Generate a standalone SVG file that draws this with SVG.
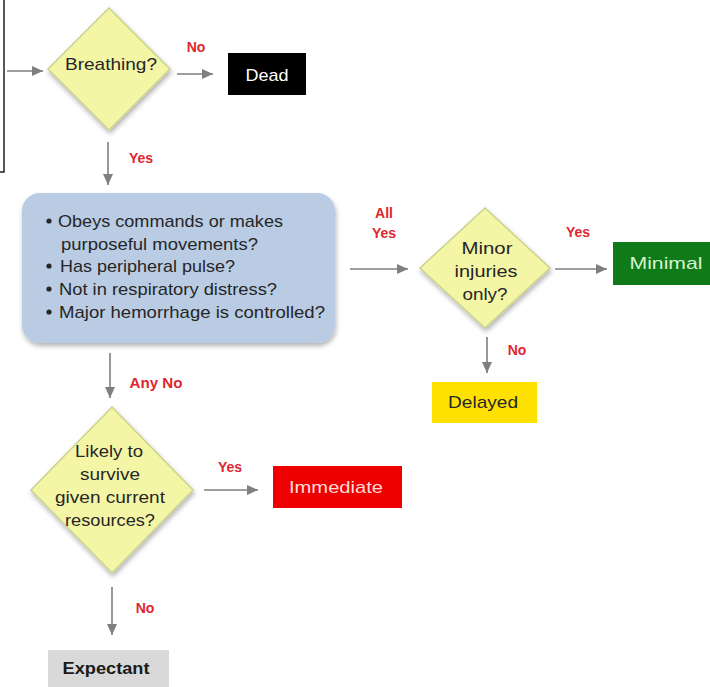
<svg xmlns="http://www.w3.org/2000/svg" width="710" height="687" viewBox="0 0 710 687">
<style>
.t{font-family:"Liberation Sans",Arial,sans-serif;font-size:17px;fill:#262626}
.c{text-anchor:middle}
.lbl{font-family:"Liberation Sans",Arial,sans-serif;font-size:14px;font-weight:bold;fill:#e0262e;text-anchor:middle}
.dia{fill:#f4f6a6;stroke:#c9d38e;stroke-width:1.5;filter:url(#sh)}
.conn line{stroke:#7f7f7f;stroke-width:1.6;marker-end:url(#ah)}
</style>
<defs>
<marker id="ah" markerUnits="userSpaceOnUse" markerWidth="12" markerHeight="10" refX="11" refY="5" orient="auto">
<path d="M0,0 L11,5 L0,10 Z" fill="#7f7f7f"/>
</marker>
<filter id="sh" x="-10%" y="-10%" width="125%" height="130%">
<feDropShadow dx="1" dy="3" stdDeviation="2.5" flood-color="#000" flood-opacity="0.3"/>
</filter>
</defs>
<rect width="710" height="687" fill="#fff"/>
<path d="M0,172 H4 V0" fill="none" stroke="#222" stroke-width="1.5"/>

<g id="connectors" class="conn">
<line x1="7" y1="71" x2="43" y2="71"/>
<line x1="177" y1="74" x2="213" y2="74"/>
<line x1="108" y1="142" x2="108" y2="185"/>
<line x1="350" y1="269" x2="408" y2="269"/>
<line x1="555" y1="269" x2="607" y2="269"/>
<line x1="487" y1="337" x2="487" y2="373"/>
<line x1="110" y1="353" x2="110" y2="398"/>
<line x1="204" y1="490" x2="258" y2="490"/>
<line x1="112" y1="587" x2="112" y2="635"/>
</g>

<g id="labels">
<text class="lbl" x="196" y="52">No</text>
<text class="lbl" x="141" y="163">Yes</text>
<text class="lbl" x="384" y="218">All</text>
<text class="lbl" x="384" y="238">Yes</text>
<text class="lbl" x="578" y="237">Yes</text>
<text class="lbl" x="517" y="355">No</text>
<text class="lbl" x="156" y="388" textLength="53" lengthAdjust="spacingAndGlyphs">Any No</text>
<text class="lbl" x="230" y="472">Yes</text>
<text class="lbl" x="145" y="613">No</text>
</g>

<g id="breathing">
<polygon class="dia" points="48,69 109,8 170,69 109,130"/>
<text class="t c" x="111" y="70" textLength="92" lengthAdjust="spacingAndGlyphs">Breathing?</text>
</g>

<g id="dead">
<rect x="228" y="53" width="78" height="42" fill="#000"/>
<text class="t c" x="267" y="81" fill="#fff" style="fill:#fff" textLength="43" lengthAdjust="spacingAndGlyphs">Dead</text>
</g>

<g id="criteria">
<rect x="22" y="193" width="313" height="150" rx="18" fill="#b9cce4" filter="url(#sh)"/>
<circle cx="49" cy="221" r="2.6" fill="#262626"/>
<circle cx="49" cy="266" r="2.6" fill="#262626"/>
<circle cx="49" cy="289" r="2.6" fill="#262626"/>
<circle cx="49" cy="312" r="2.6" fill="#262626"/>
<text class="t" x="58" y="227" textLength="225" lengthAdjust="spacingAndGlyphs">Obeys commands or makes</text>
<text class="t" x="61" y="250" textLength="197" lengthAdjust="spacingAndGlyphs">purposeful movements?</text>
<text class="t" x="60" y="272" textLength="175" lengthAdjust="spacingAndGlyphs">Has peripheral pulse?</text>
<text class="t" x="59" y="295" textLength="218" lengthAdjust="spacingAndGlyphs">Not in respiratory distress?</text>
<text class="t" x="59" y="318" textLength="266" lengthAdjust="spacingAndGlyphs">Major hemorrhage is controlled?</text>
</g>

<g id="minor">
<polygon class="dia" points="420,268 485,208 550,268 485,328"/>
<text class="t c" x="487" y="254" textLength="51" lengthAdjust="spacingAndGlyphs">Minor</text>
<text class="t c" x="486" y="277" textLength="63" lengthAdjust="spacingAndGlyphs">injuries</text>
<text class="t c" x="485" y="300" textLength="45" lengthAdjust="spacingAndGlyphs">only?</text>
</g>

<g id="minimal">
<rect x="613" y="242" width="100" height="43" fill="#0e7a18"/>
<text class="t c" x="666" y="269" style="fill:#d6f3cf" textLength="73" lengthAdjust="spacingAndGlyphs">Minimal</text>
</g>

<g id="delayed">
<rect x="432" y="382" width="105" height="41" fill="#ffe100"/>
<text class="t c" x="483" y="408" textLength="70" lengthAdjust="spacingAndGlyphs">Delayed</text>
</g>

<g id="likely">
<polygon class="dia" points="31,490 112,407 193,490 112,573"/>
<text class="t c" x="109" y="457" textLength="68" lengthAdjust="spacingAndGlyphs">Likely to</text>
<text class="t c" x="110" y="480" textLength="60" lengthAdjust="spacingAndGlyphs">survive</text>
<text class="t c" x="110" y="503" textLength="110" lengthAdjust="spacingAndGlyphs">given current</text>
<text class="t c" x="110" y="526" textLength="90" lengthAdjust="spacingAndGlyphs">resources?</text>
</g>

<g id="immediate">
<rect x="273" y="466" width="129" height="42" fill="#ee0000"/>
<text class="t c" x="336" y="493" style="fill:#ffdada" textLength="94" lengthAdjust="spacingAndGlyphs">Immediate</text>
</g>

<g id="expectant">
<rect x="48" y="650" width="121" height="40" fill="#d9d9d9"/>
<text class="t c" x="106" y="674" style="font-weight:bold;fill:#1a1a1a" textLength="87" lengthAdjust="spacingAndGlyphs">Expectant</text>
</g>
</svg>
